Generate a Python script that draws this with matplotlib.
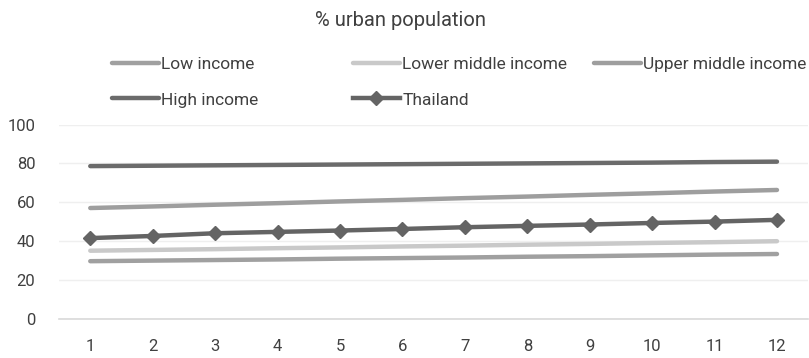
import matplotlib
matplotlib.use("Agg")
import matplotlib.pyplot as plt

plt.rcParams['font.family'] = ['Roboto', 'DejaVu Sans']

years = list(range(1, 13))
low_income = [29.6, 29.9, 30.2, 30.5, 30.9, 31.2, 31.5, 31.9, 32.2, 32.6, 33.0, 33.3]
lower_middle = [35.0, 35.4, 35.8, 36.3, 36.7, 37.2, 37.6, 38.1, 38.5, 39.0, 39.4, 39.9]
upper_middle = [57.0, 57.8, 58.7, 59.5, 60.4, 61.2, 62.1, 62.9, 63.8, 64.6, 65.5, 66.3]
high_income = [78.6, 78.8, 79.0, 79.2, 79.4, 79.6, 79.8, 80.0, 80.2, 80.4, 80.7, 80.9]
thailand = [41.5, 42.6, 44.0, 44.7, 45.4, 46.2, 47.1, 47.8, 48.5, 49.3, 50.0, 50.9]
yticks = [0, 20, 40, 60, 80, 100]

c_low = '#a0a0a0'
c_lmid = '#c9c9c9'
c_umid = '#9e9e9e'
c_high = '#6b6b6b'
c_thai = '#646464'
txt = '#404040'

fig = plt.figure(figsize=(8.09, 3.58), dpi=100)
ax = fig.add_axes([0.073, 0.11, 0.926, 0.542])

lw = 3.2
l1, = ax.plot(years, low_income, color=c_low, lw=lw, solid_capstyle='round', label='Low income')
l2, = ax.plot(years, lower_middle, color=c_lmid, lw=lw, solid_capstyle='round', label='Lower middle income')
l3, = ax.plot(years, upper_middle, color=c_umid, lw=lw, solid_capstyle='round', label='Upper middle income')
l4, = ax.plot(years, high_income, color=c_high, lw=lw, solid_capstyle='round', label='High income')
l5, = ax.plot(years, thailand, color=c_thai, lw=lw, marker='D', ms=7, label='Thailand')

ax.set_xlim(0.5, 12.5)
ax.set_ylim(0, 100)
ax.set_xticks(years)
ax.set_yticks(yticks)
ax.grid(axis='y', color='#efefef', lw=1)
ax.set_axisbelow(True)
for s in ['top', 'right', 'left']:
    ax.spines[s].set_visible(False)
ax.spines['bottom'].set_color('#d9d9d9')
ax.spines['bottom'].set_linewidth(1.2)
ax.tick_params(axis='both', length=0, labelsize=12, colors=txt)
ax.tick_params(axis='x', pad=15)
ax.tick_params(axis='y', pad=17)

fig.text(0.495, 0.944, '% urban population', ha='center', va='center', fontsize=14.5, color=txt)

# three single-column legends with equal spacing
cols = [[l1, l4], [l2, l5], [l3]]
xs = [0.138, 0.436, 0.734]
for hs, x in zip(cols, xs):
    leg = fig.legend(handles=hs, loc='upper left', bbox_to_anchor=(x, 0.84), frameon=False,
                     handlelength=2.7, handletextpad=0.15, labelspacing=1.15, fontsize=12.5,
                     borderaxespad=0, borderpad=0)
    for t in leg.get_texts():
        t.set_color(txt)

fig.savefig('out.png', dpi=100)
